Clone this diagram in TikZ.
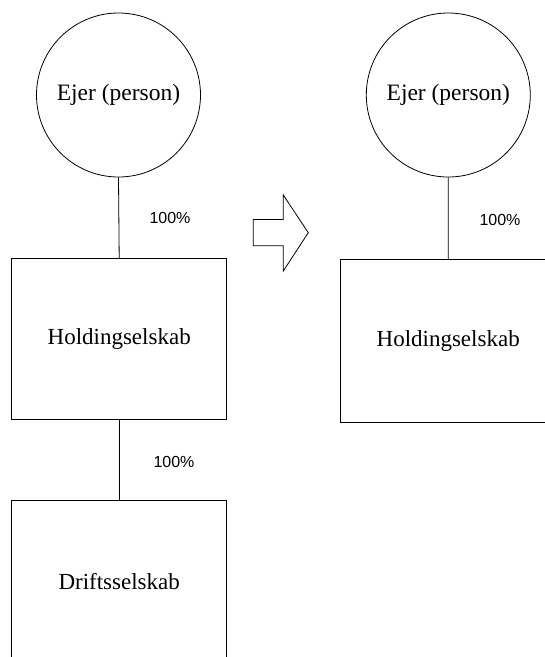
\documentclass[tikz,border=0pt]{standalone}
\usepackage{fontspec}
\setmainfont{Liberation Serif}
\newfontfamily\pctfont{Liberation Sans}
\begin{document}
\begin{tikzpicture}[x=1pt,y=-1pt,line width=0.8pt,
  owner/.style={draw,circle,minimum size=164pt,inner sep=0pt,font=\fontsize{23.5}{28}\selectfont},
  company/.style={draw,rectangle,minimum width=215pt,inner sep=0pt,font=\fontsize{23}{28}\selectfont},
  share/.style={font=\pctfont\fontsize{16}{19}\selectfont,inner sep=0pt}]
\useasboundingbox (0,0) rectangle (545,657);
\clip (0,0) rectangle (545,657);

% before: person -> holding -> operating company
\node[owner] (ejerA) at (118.5,95) {Ejer (person)};
\node[company,minimum height=161pt] (holdA) at (119.2,338.7) {Holdingselskab};
\node[company,minimum height=164pt] (drift) at (119.2,582) {Driftsselskab};
\draw (ejerA.south) -- (holdA.north);
\draw (holdA.south) -- (drift.north);
\node[share] (pctA) at (170,218) {100\%};
\node[share] (pctB) at (174,462) {100\%};

% transition arrow
\draw (253.3,219.5) -- (283.3,219.5) -- (283.3,195) -- (308.3,232.7)
  -- (283.3,271) -- (283.3,245.7) -- (253.3,245.7) -- cycle;

% after: person -> holding
\node[owner] (ejerB) at (448.3,95) {Ejer (person)};
\node[company,minimum height=163pt] (holdB) at (448.2,340.8) {Holdingselskab};
\draw (ejerB.south) -- (holdB.north);
\node[share] (pctC) at (500,220) {100\%};
\end{tikzpicture}
\end{document}
